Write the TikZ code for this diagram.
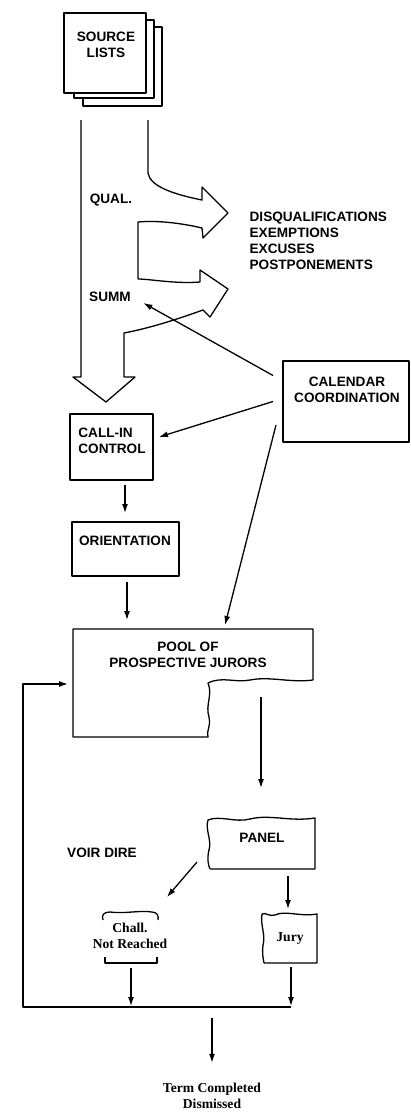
\documentclass[tikz,border=0pt]{standalone}
\usepackage{fontspec}
\setmainfont{Liberation Serif}
\setsansfont{Liberation Sans}
\usetikzlibrary{arrows.meta,calc,fit}
\begin{document}
\begin{tikzpicture}[x=1pt,y=-1pt, line width=1.3pt, line join=round,
  sans/.style={font=\sffamily\bfseries\fontsize{13.6}{16}\selectfont, inner sep=0pt, align=center},
  serif/.style={font=\rmfamily\bfseries\fontsize{13.6}{15.5}\selectfont, inner sep=0pt, align=center},
  area/.style={inner sep=0pt, outer sep=0pt},
  arr/.style={-{Latex[length=9pt,width=6pt]}}]
\useasboundingbox (0,0) rectangle (411,1112);
% source lists
\draw[fill=white] (83,27) rectangle (162,106);
\draw[fill=white] (74,20) rectangle (154,98);
\draw[fill=white] (64,13) rectangle (146,93);
\node[fit={(64,13)(162,106)}, area] (src) {};
\node[sans] (srcT) at (106,45) {SOURCE\\LISTS};
% big arrow
\draw (81,120) -- (81,377) -- (73,377) -- (106,402) -- (135,377) -- (124,377) -- (124,333)
  .. controls (150,328) and (175,320) .. (203,310) -- (210,317) -- (228,289) -- (200,270) -- (200,282)
  .. controls (175,284) and (150,279) .. (138,279) -- (138,222)
  .. controls (160,220) and (185,224) .. (202,228) -- (203,238) -- (228,213) -- (202,187) -- (202,200)
  .. controls (172,194) and (150,186) .. (148,173) -- (148,120);
\node[sans] (qual) at (111,200) {QUAL.};
\node[sans] (summ) at (110,297) {SUMM};
\node[sans, align=left, anchor=west] (disq) at (249,241) {DISQUALIFICATIONS\\EXEMPTIONS\\EXCUSES\\POSTPONEMENTS};
% calendar
\draw (283,361) rectangle (409,442);
\node[fit={(283,361)(409,442)}, area] (cal) {};
\node[sans] (calT) at (347,390) {CALENDAR\\COORDINATION};
% call-in
\draw (70,414) rectangle (153,480);
\node[fit={(70,414)(153,480)}, area] (call) {};
\node[sans, align=left] (callT) at (112,441) {CALL-IN\\CONTROL};
% orientation
\draw (72,522) rectangle (179,576);
\node[fit={(72,522)(179,576)}, area] (orient) {};
\node[sans] (orientT) at (125,541) {ORIENTATION};
% pool
\draw (73,629) -- (313,629) -- (313,680)
  .. controls (290,683) and (270,676) .. (250,680) .. controls (235,683) and (222,676) .. (208,683)
  .. controls (213,695) and (205,705) .. (209,717) .. controls (211,727) and (206,731) .. (208,737)
  -- (73,737) -- cycle;
\node[fit={(73,629)(313,737)}, area] (pool) {};
\node[sans] (poolT) at (188,655) {POOL OF\\PROSPECTIVE JURORS};
% panel
\draw (210,869) -- (315,869) -- (315,818)
  .. controls (290,822) and (270,814) .. (250,819) .. controls (235,823) and (220,815) .. (208,820)
  .. controls (205,830) and (212,840) .. (209,850) .. controls (207,858) and (208,865) .. (210,869);
\node[fit={(207,818)(315,869)}, area] (panel) {};
\node[sans] (panelT) at (262,838) {PANEL};
\node[sans] (voir) at (102,853) {VOIR DIRE};
% chall
\draw (103,920) .. controls (101,915) and (104,912) .. (110,912) .. controls (125,914) and (140,910) .. (152,912)
  .. controls (157,912) and (159,916) .. (158,920);
\draw (105,957) -- (105,963) -- (157,963) -- (157,957);
\node[fit={(103,912)(158,963)}, area] (chall) {};
\node[serif] (challT) at (130,936) {Chall.\\Not Reached};
% jury
\draw (264,963) -- (317,963) -- (317,914)
  .. controls (300,917) and (285,910) .. (275,915) .. controls (270,917) and (265,912) .. (262,914)
  .. controls (260,925) and (266,935) .. (263,945) .. controls (262,952) and (263,958) .. (264,963);
\node[fit={(262,913)(317,963)}, area] (jury) {};
\node[serif] (juryT) at (290,939) {Jury};
% term
\node[serif] (term) at (212,1096) {Term Completed\\Dismissed};
% connectors
\draw[arr] ([shift={(-10,-26)}]cal.west) -- ([shift={(12,6)}]summ.east);
\draw[arr] ([shift={(-10,0)}]cal.west) -- ([shift={(6,-10)}]call.east);
\draw[arr] ([shift={(-7,-17)}]cal.south west) -- ([shift={(32,-4)}]pool.north);
\draw[arr] ($(call.south)+(13.5,5)$) -- ($(orient.north)+(-0.5,-9)$);
\draw[arr] ($(orient.south)+(1.5,6)$) -- ($(orient.south |- pool.north)+(1.5,-9)$);
\draw[arr] ($(panel.north |- pool.south)+(0,-40)$) -- ($(panel.north)+(0,-30)$);
\draw[arr] ($(panel.west)+(-10,18.5)$) -- ($(chall.north east)+(9,-15)$);
\draw[arr] ($(jury.north |- panel.south)+(-1.5,7)$) -- ($(jury.north)+(-1.5,-4)$);
\coordinate (rb) at (291,1007);
\coordinate (lb) at (23,1007);
\coordinate (lt) at (23,684);
\draw[arr] (rb) -- (lb) -- (lt) -- ($(pool.west |- lt)+(-5,0)$);
\draw[arr] ($(chall.south)+(0.5,5)$) -- ($(chall.south |- lb)+(0.5,-1)$);
\draw[arr] ($(jury.south)+(1.5,4)$) -- ($(jury.south |- lb)+(1.5,-1)$);
\draw[arr] ($(term.north |- lb)+(0,11)$) -- ($(term.north)+(0,-20)$);
\end{tikzpicture}
\end{document}
